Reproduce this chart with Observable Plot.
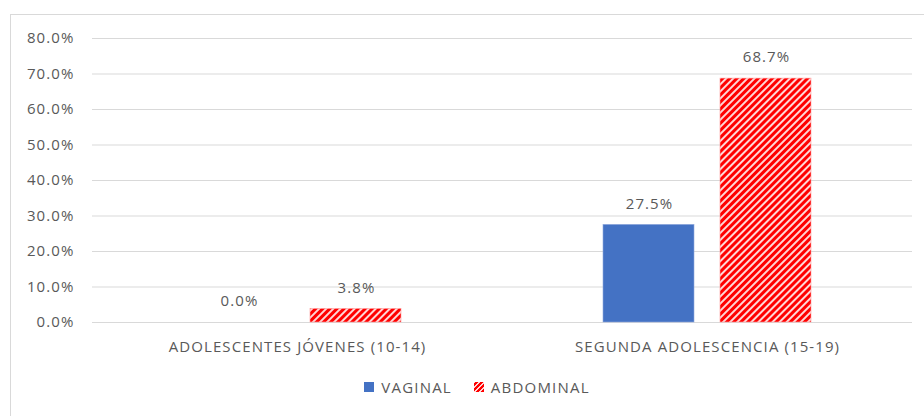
<!DOCTYPE html>
<html><head><meta charset="utf-8">
<script src="https://cdn.jsdelivr.net/npm/d3@7"></script>
<script src="https://cdn.jsdelivr.net/npm/@observablehq/plot@0.6"></script>
<style>
body{margin:0;background:#fff;font-family:"Open Sans",sans-serif;}
#wrap{position:relative;width:924px;height:416px;overflow:hidden;}
#frame{position:absolute;left:10px;top:14px;width:930px;height:420px;border:1px solid #d9d9d9;box-sizing:border-box;}
#chart{position:absolute;left:0;top:0;}
#chart text{letter-spacing:1.1px;}
#legend{position:absolute;left:15px;top:377px;width:924px;font-size:15px;letter-spacing:1.2px;color:#595959;display:flex;justify-content:center;gap:22px;}
.item{display:flex;align-items:center;gap:7px;}
.sw{width:10px;height:10px;display:inline-block;}
</style></head>
<body><div id="wrap"><div id="frame"></div><div id="chart"></div><div id="legend"></div></div>
<script>
const categories = ["ADOLESCENTES JÓVENES (10-14)", "SEGUNDA ADOLESCENCIA (15-19)"];
const series = ["VAGINAL", "ABDOMINAL"];
const vaginal = [0.0, 0.275];
const abdominal = [0.038, 0.687];
const yTicks = [0, 0.1, 0.2, 0.3, 0.4, 0.5, 0.6, 0.7, 0.8];

const data = [];
categories.forEach((c, i) => {
  data.push({cat: c, series: "VAGINAL", value: vaginal[i]});
  data.push({cat: c, series: "ABDOMINAL", value: abdominal[i]});
});
const fmt = v => (v * 100).toFixed(1) + "%";

const defs = () => {
  const ns = "http://www.w3.org/2000/svg";
  const d = document.createElementNS(ns, "defs");
  d.innerHTML = `<pattern id="hatch" patternUnits="userSpaceOnUse" width="5" height="5" patternTransform="rotate(45)">
    <rect width="5" height="5" fill="#ffd6d6"/><rect width="3" height="5" fill="#ff0000"/></pattern>`;
  return d;
};

const chart = Plot.plot({
  width: 924, height: 360,
  marginLeft: 92, marginRight: 12, marginTop: 38, marginBottom: 38,
  style: {fontFamily: "'Open Sans', sans-serif", fontSize: "15px", color: "#595959", background: "transparent"},
  x: {domain: categories, padding: 0, label: null},
  y: {domain: [0, 0.8], label: null},
  marks: [
    defs,
    Plot.ruleY(yTicks, {stroke: "#d9d9d9", strokeWidth: 1.2}),
    Plot.axisY({ticks: yTicks, tickFormat: fmt, tickSize: 0, tickPadding: 18, fill: "#595959", fontSize: 15}),
    Plot.axisX({tickSize: 0, tickPadding: 19, fill: "#595959", fontSize: 15}),
    Plot.barY(data.filter(d => d.series === "VAGINAL"), {
      x: "cat", y: "value", fill: "#4472c4", stroke: "#8fa9dc", strokeWidth: 0.6,
      insetLeft: 101, insetRight: 218
    }),
    Plot.barY(data.filter(d => d.series === "ABDOMINAL"), {
      x: "cat", y: "value", fill: "url(#hatch)", stroke: "#ff9a9a", strokeWidth: 0.6,
      insetLeft: 218, insetRight: 101
    }),
    Plot.text(data.filter(d => d.series === "VAGINAL"), {
      x: "cat", y: "value", text: d => fmt(d.value), dx: -58, dy: -21, fill: "#595959", fontSize: 15
    }),
    Plot.text(data.filter(d => d.series === "ABDOMINAL"), {
      x: "cat", y: "value", text: d => fmt(d.value), dx: 59, dy: -21, fill: "#595959", fontSize: 15
    })
  ]
});
document.getElementById("chart").appendChild(chart);

const leg = document.getElementById("legend");
series.forEach(s => {
  const it = document.createElement("div"); it.className = "item";
  const sw = document.createElement("span"); sw.className = "sw";
  sw.style.background = s === "VAGINAL" ? "#4472c4" : "repeating-linear-gradient(-45deg,#ff0000 0 2.2px,#ffd6d6 2.2px 3.6px)";
  const t = document.createElement("span"); t.textContent = s;
  it.appendChild(sw); it.appendChild(t); leg.appendChild(it);
});
</script></body></html>
